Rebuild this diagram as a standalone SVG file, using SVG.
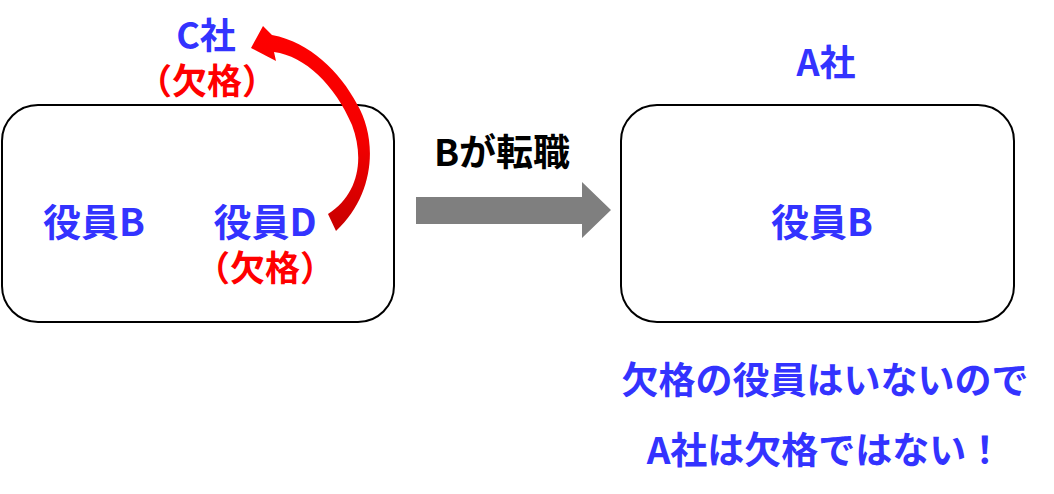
<svg xmlns="http://www.w3.org/2000/svg" width="1054" height="494" viewBox="0 0 1054 494">
<style>
text{font-family:"Noto Sans CJK JP","Noto Sans",sans-serif;font-weight:bold;text-anchor:middle}
.b{fill:#3333FF}
.r{fill:#FF0000}
.k{fill:#000000}
.box{fill:#FFFFFF;stroke:#000000;stroke-width:2}
</style>
<defs>
<linearGradient id="rg" x1="0" y1="0" x2="0" y2="1">
<stop offset="0" stop-color="#FF0000"/>
<stop offset="0.55" stop-color="#F40000"/>
<stop offset="1" stop-color="#C80000"/>
</linearGradient>
</defs>
<rect width="1054" height="494" fill="#FFFFFF"/>
<g id="company-c">
<text class="b" x="206" y="49" font-size="36">C社</text>
<text class="r" x="207" y="94" font-size="35">（欠格）</text>
</g>
<g id="left-box">
<rect class="box" x="2" y="105" width="392" height="217" rx="36"/>
<text class="b" x="94" y="236" font-size="38">役員B</text>
<text class="b" x="265" y="236" font-size="38">役員D</text>
<text class="r" x="265" y="281" font-size="35">（欠格）</text>
</g>
<g id="company-a">
<text class="b" x="826" y="76" font-size="36">A社</text>
</g>
<g id="right-box">
<rect class="box" x="621" y="105" width="393" height="217" rx="36"/>
<text class="b" x="822" y="236" font-size="38">役員B</text>
</g>
<g id="conclusion">
<text class="b" x="825" y="394" font-size="37">欠格の役員はいないので</text>
<text class="b" x="825" y="464" font-size="37">A社は欠格ではない！</text>
</g>
<g id="connectors">
<text class="k" x="502" y="166" font-size="37">Bが転職</text>
<polygon fill="#7F7F7F" points="416,197 582,197 582,182 611,210 582,238 582,224 416,224"/>
<path fill="url(#rg)" d="M 336 231 C 375 195, 378 140, 357 104 C 340 72, 310 42, 272 35 L 263 26 L 251 48 L 276 61 L 274 52 C 305 56, 335 85, 352 125 C 365 160, 358 195, 328 214 Z"/>
</g>
</svg>
